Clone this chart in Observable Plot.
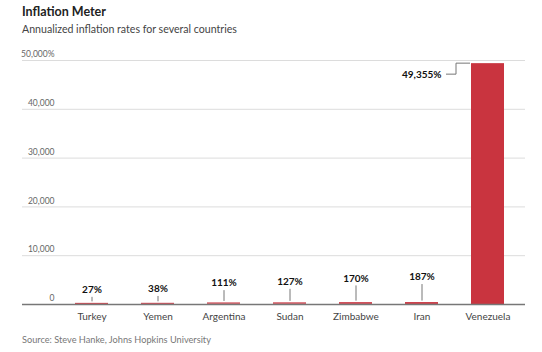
<!DOCTYPE html>
<html>
<head>
<meta charset="utf-8">
<script src="https://cdn.jsdelivr.net/npm/d3@7"></script>
<script src="https://cdn.jsdelivr.net/npm/@observablehq/plot@0.6"></script>
<style>
  html, body { margin: 0; padding: 0; background: #fff; }
  body { width: 542px; height: 352px; position: relative; overflow: hidden; font-family: Lato, "Noto Sans", sans-serif; }
  .t { position: absolute; left: 22px; white-space: nowrap; }
  #title { top: 5px; font-size: 12.5px; font-weight: bold; color: #222; line-height: 14px; }
  #subtitle { top: 22px; font-size: 10.6px; color: #444; line-height: 14px; }
  #caption { top: 334px; font-size: 9.2px; color: #777; line-height: 12px; }
  #chart { position: absolute; left: 0; top: 42px; }
</style>
</head>
<body>
<div class="t" id="title">Inflation Meter</div>
<div class="t" id="subtitle">Annualized inflation rates for several countries</div>
<div id="chart"></div>
<div class="t" id="caption">Source: Steve Hanke, Johns Hopkins University</div>
<script>
const countries = ["Turkey", "Yemen", "Argentina", "Sudan", "Zimbabwe", "Iran", "Venezuela"];
const rates = [27, 38, 111, 127, 170, 187, 49355];
const yTicks = [0, 10000, 20000, 30000, 40000, 50000];
const yTickLabels = ["0", "10,000", "20,000", "30,000", "40,000", "50,000%"];

const data = countries.map((c, i) => ({country: c, value: rates[i]}));

const W = 542, H = 288, mt = 18, mb = 26, ml = 22, mr = 17;
const upx = 50000 / (H - mt - mb);        // data units per pixel
const lift = v => 5 + 0.075 * v;          // leader length (px) for small bars
const red = "#c9343f";
const fmt = d3.format(",");

const connector = (index, scales) => {
  const g = d3.create("svg:g");
  data.filter(d => d.value >= 1000).forEach(d => {
    const left = scales.x(d.country);
    const top = scales.y(d.value);
    g.append("path")
      .attr("d", `M${left - 25},${top + 11}H${left - 15}V${top}H${left - 1}`)
      .attr("fill", "none").attr("stroke", "#777").attr("stroke-width", 1);
  });
  return g.node();
};

const chart = Plot.plot({
  width: W, height: H,
  marginTop: mt, marginBottom: mb, marginLeft: ml, marginRight: mr,
  style: {fontFamily: "Lato, 'Noto Sans', sans-serif", background: "transparent"},
  x: {domain: countries, range: [57, 522], paddingInner: 0.5, paddingOuter: 0.25, label: null},
  y: {domain: [0, 50000], label: null},
  marks: [
    Plot.ruleY(yTicks.filter(t => t > 0), {stroke: "#dcdcdc", strokeWidth: 1}),
    Plot.axisY ? Plot.axisY(yTicks, {anchor: "left", tickSize: 0, tickPadding: 0, dx: 32, dy: -6, fontSize: 8.5, fill: "#666", label: null, tickFormat: (d, i) => yTickLabels[yTicks.indexOf(d)]}) : null,
    Plot.barY(data, {x: "country", y: "value", fill: red}),
    Plot.tickY(data, {filter: d => d.value < 1000, x: "country", y: "value", stroke: red, strokeWidth: 1, dy: -1}),
    Plot.ruleY([0], {stroke: "#777", strokeWidth: 1.3}),
    Plot.ruleX(data, {filter: d => d.value < 1000, x: "country", y1: d => d.value + 2.5 * upx, y2: d => d.value + lift(d.value) * upx, stroke: "#777", strokeWidth: 1}),
    Plot.text(data, {filter: d => d.value < 1000, x: "country", y: d => d.value + lift(d.value) * upx, dy: -7.5, text: d => fmt(d.value) + "%", fontSize: 10, fontWeight: "bold", fill: "#111"}),
    Plot.text(data, {filter: d => d.value >= 1000, x: "country", y: "value", dx: -46.5, dy: 11, textAnchor: "end", text: d => fmt(d.value) + "%", fontSize: 10, fontWeight: "bold", fill: "#111"}),
    connector,
    Plot.axisX ? Plot.axisX({tickSize: 0, tickPadding: 8, fontSize: 10, fill: "#444", label: null}) : null
  ].filter(Boolean)
});
document.getElementById("chart").appendChild(chart);
</script>
</body>
</html>
